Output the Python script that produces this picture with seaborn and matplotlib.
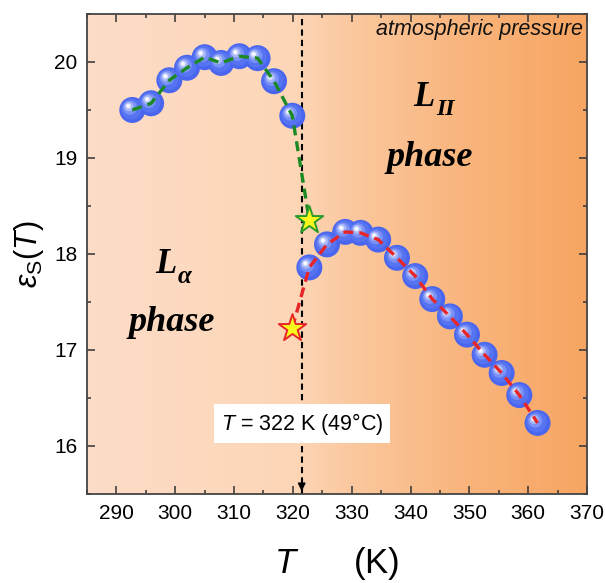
import numpy as np
import seaborn as sns
import matplotlib.pyplot as plt
from matplotlib.path import Path
from matplotlib.colors import LinearSegmentedColormap
from matplotlib.ticker import MultipleLocator

# data
T_upper = [292.7, 295.9, 299.0, 302.0, 305.0, 307.8, 310.9, 314.0, 316.8, 319.9]
eps_upper = [19.50, 19.57, 19.81, 19.94, 20.05, 19.99, 20.06, 20.04, 19.80, 19.44]
T_lower = [322.8, 325.8, 328.9, 331.5, 334.5, 337.7, 340.8, 343.7, 346.7, 349.6,
           352.6, 355.5, 358.5, 361.6]
eps_lower = [17.86, 18.10, 18.23, 18.22, 18.15, 17.96, 17.77, 17.53, 17.35, 17.16,
             16.95, 16.76, 16.53, 16.24]
T_star_green = [322.8]
eps_star_green = [18.35]
T_star_red = [319.9]
eps_star_red = [17.23]
T_transition = 321.5

sns.set_theme(style="ticks", rc={"text.color": "black", "axes.labelcolor": "black",
                                 "xtick.color": "black", "ytick.color": "black"})
plt.rcParams['font.family'] = ['Liberation Sans', 'DejaVu Sans']
plt.rcParams['mathtext.fontset'] = 'custom'
plt.rcParams['mathtext.rm'] = 'Liberation Sans'
plt.rcParams['mathtext.it'] = 'Liberation Sans:italic'

fig = plt.figure(figsize=(6.06, 5.83), dpi=100)
ax = fig.add_axes([0.1436, 0.1527, 0.8250, 0.8233])

# background gradient
bg = LinearSegmentedColormap.from_list("bg", [(0.0, "#fcdcc8"), (0.42, "#fdd6b6"),
                                             (0.52, "#fbc9a0"), (0.75, "#f9b57d"),
                                             (1.0, "#f7a562")])
ax.imshow(np.linspace(0, 1, 256)[None, :], cmap=bg, aspect="auto",
          extent=[0, 1, 0, 1], transform=ax.transAxes, zorder=0)

# shiny balls: stacked circle markers with a highlight towards upper left
anchor = Path([(1, 0), (1, 0)], [Path.MOVETO, Path.LINETO])
layers = [(0.0, 0.0, 1.0, "#4a66ee"), (-0.08, 0.08, 0.8, "#5674f2"),
          (-0.18, 0.18, 0.55, "#7a91f5"), (-0.26, 0.26, 0.36, "#a8b7f8"),
          (-0.3, 0.3, 0.2, "#e2e8fd"), (-0.32, 0.32, 0.1, "white")]
T_all = T_upper + T_lower
eps_all = eps_upper + eps_lower
for i, (cx, cy, r, c) in enumerate(layers):
    m = Path.make_compound_path(Path.circle((cx, cy), r), anchor)
    sns.scatterplot(x=T_all, y=eps_all, marker=m, s=350, color=c, linewidth=0,
                    edgecolor="none", zorder=3 + i * 0.01, ax=ax)

# dashed guide lines
sns.lineplot(x=T_upper + T_star_green, y=eps_upper + eps_star_green, sort=False,
             color="#1c8a24", lw=2.4, linestyle=(0, (3, 1.8)), zorder=4, ax=ax)
sns.lineplot(x=T_star_red + T_lower, y=eps_star_red + eps_lower, sort=False,
             color="#e8262a", lw=2.4, linestyle=(0, (3, 1.8)), zorder=4, ax=ax)

# stars
ax.scatter(T_star_green, eps_star_green, marker="*", s=430, color="#f7f71e",
           edgecolor="#2a9a2a", linewidth=1.4, zorder=5)
ax.scatter(T_star_red, eps_star_red, marker="*", s=430, color="#f7f71e",
           edgecolor="#e8262a", linewidth=1.4, zorder=5)

# transition line with arrow
ax.axvline(T_transition, color="black", lw=1.5, linestyle=(0, (3, 2)), zorder=2)
ax.annotate("", xy=(T_transition, 15.5), xytext=(T_transition, 15.63),
            arrowprops=dict(arrowstyle="-|>", color="black", lw=1.2,
                            mutation_scale=11), zorder=2)

ax.text(0.43, 0.146, r"$T$ = 322 K (49°C)", transform=ax.transAxes, fontsize=15.5,
        ha="center", va="center", zorder=6,
        bbox=dict(boxstyle="square,pad=0.3", fc="white", ec="none"))

ax.text(0.992, 0.967, "atmospheric pressure", transform=ax.transAxes, fontsize=15.5,
        style="italic", ha="right", va="center", color="#111111")

serif = dict(family="Liberation Serif", weight="bold", style="italic", color="black")
ax.text(0.158, 0.479, "L", transform=ax.transAxes, fontsize=25, ha="center",
        va="center", **serif)
ax.text(0.196, 0.454, "α", transform=ax.transAxes, fontsize=18, ha="center",
        va="center", **serif)
ax.text(0.17, 0.358, "phase", transform=ax.transAxes, fontsize=26, ha="center",
        va="center", **serif)
ax.text(0.674, 0.825, "L", transform=ax.transAxes, fontsize=25, ha="center",
        va="center", **serif)
ax.text(0.716, 0.800, "II", transform=ax.transAxes, fontsize=17, ha="center",
        va="center", **serif)
ax.text(0.686, 0.702, "phase", transform=ax.transAxes, fontsize=26, ha="center",
        va="center", **serif)

ax.set_xlim(285, 370)
ax.set_ylim(15.5, 20.5)
ax.xaxis.set_major_locator(MultipleLocator(10))
ax.xaxis.set_minor_locator(MultipleLocator(5))
ax.yaxis.set_major_locator(MultipleLocator(1))
ax.yaxis.set_minor_locator(MultipleLocator(0.5))
ax.tick_params(which="both", direction="in", top=True, right=True, labelsize=15,
               color="#333333", labelcolor="black", width=1.1)
ax.tick_params(which="major", length=6, pad=7)
ax.tick_params(which="minor", length=3)
for sp in ax.spines.values():
    sp.set_color("#444444")
    sp.set_linewidth(1.3)

ax.set_xlabel(r"$T$      (K)", fontsize=25, labelpad=16)
ax.set_ylabel(r"$\varepsilon_{\mathrm{S}}(T)$", fontsize=22, labelpad=6)

fig.savefig("out.png", dpi=100)
